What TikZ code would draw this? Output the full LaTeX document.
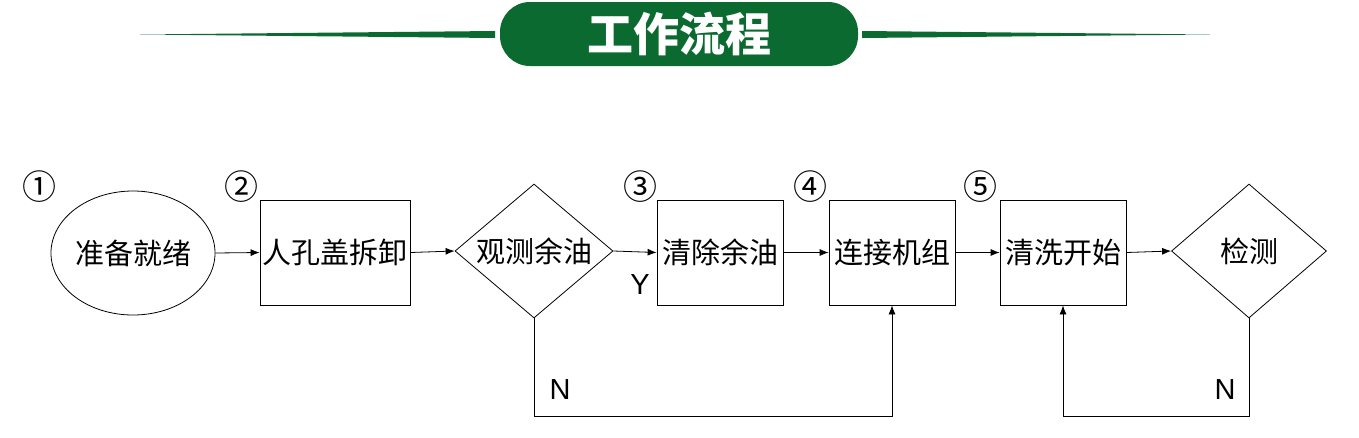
\documentclass[tikz,border=0pt]{standalone}
\usepackage{fontspec}
\setmainfont{Liberation Sans}
\newfontfamily\cjk{Noto Sans CJK SC}
\usetikzlibrary{shapes.geometric,arrows.meta}
\definecolor{hdgreen}{HTML}{0B6A2F}
\begin{document}
\begin{tikzpicture}[x=1pt,y=-1pt,
  every node/.style={font=\cjk\fontsize{29}{29}\selectfont},
  boxn/.style={draw,line width=0.8pt,minimum width=126pt,minimum height=105pt,inner sep=0pt},
  dia/.style={draw,line width=0.8pt,diamond,aspect=1.17,minimum width=158pt,minimum height=134pt,inner sep=0pt},
  arr/.style={line width=0.8pt,-{Latex[length=9pt,width=7pt]}},
  num/.style={font=\cjk\fontsize{34}{34}\selectfont},
  lab/.style={font=\fontsize{29}{29}\selectfont}]
\useasboundingbox (0,0) rectangle (1359,437);
% header
\fill[hdgreen] (140,34.5) -- (495,31) -- (495,38) -- cycle;
\fill[hdgreen] (1210,34.5) -- (862,31) -- (862,38) -- cycle;
\fill[hdgreen,rounded corners=30pt] (500,2) rectangle (858,66);
\node[text=white,font=\cjk\bfseries\fontsize{46}{46}\selectfont] (title) at (679,34) {工作流程};
% nodes
\node[draw,line width=0.8pt,ellipse,minimum width=164pt,minimum height=124pt,inner sep=0pt] (s) at (133,253) {准备就绪};
\node[boxn,minimum width=150pt] (b1) at (335,252.5) {人孔盖拆卸};
\node[dia] (d1) at (534,251) {观测余油};
\node[boxn] (b2) at (720,252.5) {清除余油};
\node[boxn] (b3) at (892,252.5) {连接机组};
\node[boxn] (b4) at (1063,252.5) {清洗开始};
\node[dia,minimum width=155pt] (d2) at (1249,251) {检测};
% numbers
\node[num] (n1) at (40,187) {①};
\node[num] (n2) at (241,187) {②};
\node[num] (n3) at (640,187) {③};
\node[num] (n4) at (810,187) {④};
\node[num] (n5) at (980,187) {⑤};
% arrows
\draw[arr] (s.east) -- (b1.west);
\draw[arr] (b1.east) -- (d1.west);
\draw[arr] (d1.east) -- (b2.west);
\draw[arr] (b2.east) -- (b3.west);
\draw[arr] (b3.east) -- (b4.west);
\draw[arr] (b4.east) -- (d2.west);
\coordinate (c1) at (534,416);
\coordinate (c2) at (1249,416);
\draw[arr] (d1.south) -- (c1) -| (b3.south);
\draw[arr] (d2.south) -- (c2) -| (b4.south);
\node[lab] (y) at (640,285) {Y};
\node[lab] (na) at (560,390) {N};
\node[lab] (nb) at (1225,390) {N};
\end{tikzpicture}
\end{document}
